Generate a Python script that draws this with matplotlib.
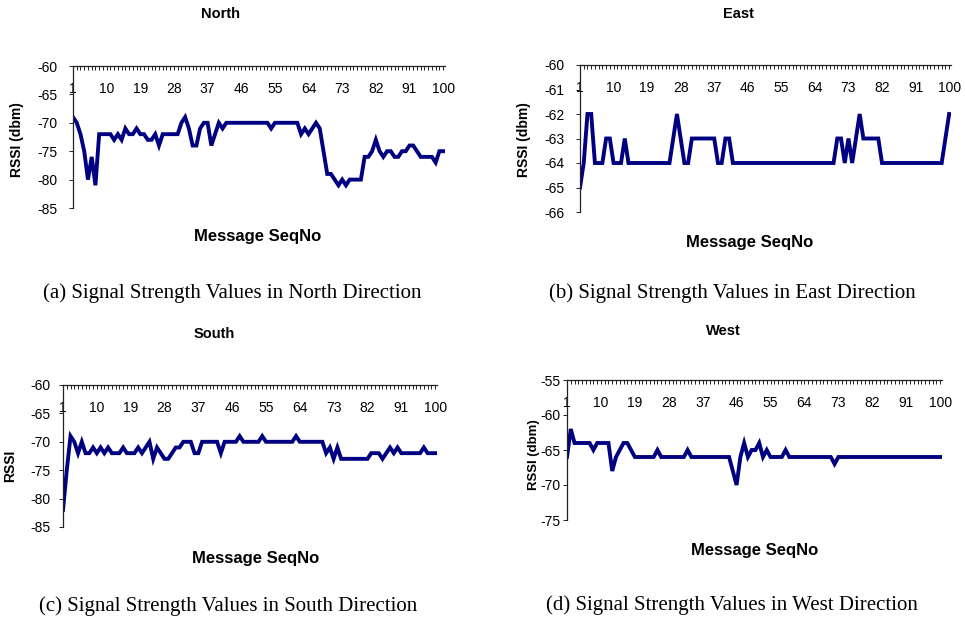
import numpy as np
import matplotlib
matplotlib.use("Agg")
import matplotlib.pyplot as plt
from matplotlib.ticker import FixedLocator, MultipleLocator

plt.rcParams['font.family'] = ['Liberation Sans', 'DejaVu Sans']
plt.rcParams['axes.unicode_minus'] = False

seq = np.arange(1, 101)
xtick_vals = [1, 10, 19, 28, 37, 46, 55, 64, 73, 82, 91, 100]

north = [-69, -70, -72, -75, -80, -76, -81, -72, -72, -72,
         -72, -73, -72, -73, -71, -72, -72, -71, -72, -72,
         -73, -73, -72, -74, -72, -72, -72, -72, -72, -70,
         -69, -71, -74, -74, -71, -70, -70, -74, -72, -70,
         -71, -70, -70, -70, -70, -70, -70, -70, -70, -70,
         -70, -70, -70, -71, -70, -70, -70, -70, -70, -70,
         -70, -72, -71, -72, -71, -70, -71, -75, -79, -79,
         -80, -81, -80, -81, -80, -80, -80, -80, -76, -76,
         -75, -73, -75, -76, -75, -75, -76, -76, -75, -75,
         -74, -74, -75, -76, -76, -76, -76, -77, -75, -75]

east = [-65, -64, -62, -62, -64, -64, -64, -63, -63, -64,
        -64, -64, -63, -64, -64, -64, -64, -64, -64, -64,
        -64, -64, -64, -64, -64, -63, -62, -63, -64, -64,
        -63, -63, -63, -63, -63, -63, -63, -64, -64, -63,
        -63, -64, -64, -64, -64, -64, -64, -64, -64, -64,
        -64, -64, -64, -64, -64, -64, -64, -64, -64, -64,
        -64, -64, -64, -64, -64, -64, -64, -64, -64, -63,
        -63, -64, -63, -64, -63, -62, -63, -63, -63, -63,
        -63, -64, -64, -64, -64, -64, -64, -64, -64, -64,
        -64, -64, -64, -64, -64, -64, -64, -64, -63, -62]

south = [-82, -75, -69, -70, -72, -70, -72, -72, -71, -72,
         -71, -72, -71, -72, -72, -72, -71, -72, -72, -72,
         -71, -72, -71, -70, -73, -71, -72, -73, -73, -72,
         -71, -71, -70, -70, -70, -72, -72, -70, -70, -70,
         -70, -70, -72, -70, -70, -70, -70, -69, -70, -70,
         -70, -70, -70, -69, -70, -70, -70, -70, -70, -70,
         -70, -70, -69, -70, -70, -70, -70, -70, -70, -70,
         -72, -71, -73, -71, -73, -73, -73, -73, -73, -73,
         -73, -73, -72, -72, -72, -73, -72, -71, -72, -71,
         -72, -72, -72, -72, -72, -72, -71, -72, -72, -72]

west = [-66, -62, -64, -64, -64, -64, -64, -65, -64, -64,
        -64, -64, -68, -66, -65, -64, -64, -65, -66, -66,
        -66, -66, -66, -66, -65, -66, -66, -66, -66, -66,
        -66, -66, -65, -66, -66, -66, -66, -66, -66, -66,
        -66, -66, -66, -66, -68, -70, -66, -64, -66, -65,
        -65, -64, -66, -65, -66, -66, -66, -66, -65, -66,
        -66, -66, -66, -66, -66, -66, -66, -66, -66, -66,
        -66, -67, -66, -66, -66, -66, -66, -66, -66, -66,
        -66, -66, -66, -66, -66, -66, -66, -66, -66, -66,
        -66, -66, -66, -66, -66, -66, -66, -66, -66, -66]

W, H = 965, 623
fig = plt.figure(figsize=(W / 100, H / 100), dpi=100)


def px(x, y):
    return x / W, 1 - y / H


def panel(box, data, yticks, title, ylab, caption, t_xy, yl_xy, xl_xy, c_xy,
          ypad=8, ylab_size=10):
    x0, y0, x1, y1 = box
    ax = fig.add_axes([x0 / W, 1 - y1 / H, (x1 - x0) / W, (y1 - y0) / H])
    ax.plot(seq, data, color='#000080', linewidth=2.8, solid_joinstyle='miter')
    ax.set_xlim(1, 100.5)
    ax.set_ylim(min(yticks), max(yticks))
    ax.spines['right'].set_visible(False)
    ax.spines['bottom'].set_visible(False)
    for s in ['left', 'top']:
        ax.spines[s].set_linewidth(0.9)
        ax.spines[s].set_color('#222222')
    ax.xaxis.set_major_locator(FixedLocator(xtick_vals))
    ax.xaxis.set_minor_locator(MultipleLocator(1))
    ax.set_xticklabels([str(v) for v in xtick_vals])
    ax.tick_params(axis='x', which='both', top=True, bottom=False,
                   labeltop=True, labelbottom=False, direction='in',
                   length=3, width=0.7, color='#222222', pad=-21.5,
                   labelsize=10)
    ax.set_yticks(yticks)
    ax.tick_params(axis='y', which='major', direction='out', length=3,
                   width=0.7, color='#222222', pad=ypad, labelsize=10)
    ax.patch.set_alpha(0)

    fig.text(*px(*t_xy), title, ha='center', va='center', fontsize=10.5,
             fontweight='bold', family=['Liberation Sans Narrow', 'Liberation Sans'])
    fig.text(*px(*yl_xy), ylab, ha='center', va='center', fontsize=ylab_size,
             fontweight='bold', rotation=90)
    fig.text(*px(*xl_xy), 'Message SeqNo', ha='center', va='center',
             fontsize=12, fontweight='bold')
    fig.text(*px(*c_xy), caption, ha='center', va='center', fontsize=15,
             family=['Liberation Serif', 'DejaVu Serif'])
    return ax


panel((73, 66, 445, 208), north, [-60, -65, -70, -75, -80, -85], 'North',
      'RSSI (dbm)', '(a) Signal Strength Values in North Direction',
      (221, 14), (17, 140), (258, 237), (232, 293))
panel((580, 65, 951, 212), east, [-60, -61, -62, -63, -64, -65, -66], 'East',
      'RSSI (dbm)', '(b) Signal Strength Values in East Direction',
      (738, 14), (524, 140), (750, 242), (732, 293))
panel((63, 385, 437, 527), south, [-60, -65, -70, -75, -80, -85], 'South',
      'RSSI', '(c) Signal Strength Values in South Direction',
      (214, 334), (10, 466), (256, 558), (228, 606), ypad=6)
panel((567, 380, 942, 520), west, [-55, -60, -65, -70, -75], 'West',
      'RSSI (dbm)', '(d) Signal Strength Values in West Direction',
      (723, 331), (534, 455), (755, 550), (732, 605), ypad=1.5, ylab_size=9.5)

fig.savefig('out.png', dpi=100)
